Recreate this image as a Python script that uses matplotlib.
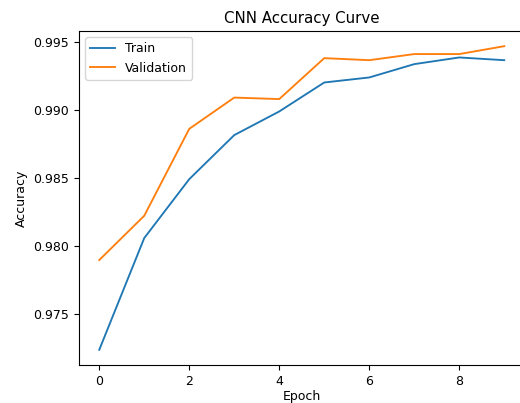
import matplotlib
matplotlib.use("Agg")
import matplotlib.pyplot as plt

# accuracy per epoch
epochs = list(range(10))
train_acc = [0.97235, 0.98057, 0.98490, 0.98814, 0.98988, 0.99201, 0.99238, 0.99336, 0.99385, 0.99365]
val_acc = [0.97895, 0.98221, 0.98860, 0.99090, 0.99079, 0.99380, 0.99365, 0.99410, 0.99410, 0.99468]

fig = plt.figure(figsize=(5.2, 4.03), dpi=100)
ax = fig.add_axes([79/520, 38/403, 445.5/520, 334/403])

ax.plot(epochs, train_acc, label='Train', linewidth=1.35)
ax.plot(epochs, val_acc, label='Validation', linewidth=1.35)

ax.set_title('CNN Accuracy Curve', fontsize=10.8)
ax.set_xlabel('Epoch', fontsize=9, labelpad=1.5)
ax.set_ylabel('Accuracy', fontsize=9)
ax.tick_params(labelsize=9)
ax.set_xticks([0, 2, 4, 6, 8])
ax.set_yticks([0.975, 0.980, 0.985, 0.990, 0.995])
ax.spines['right'].set_visible(False)  # cropped off in the reference
ax.legend(loc='upper left', fontsize=9)

plt.savefig('out.png', dpi=100)
